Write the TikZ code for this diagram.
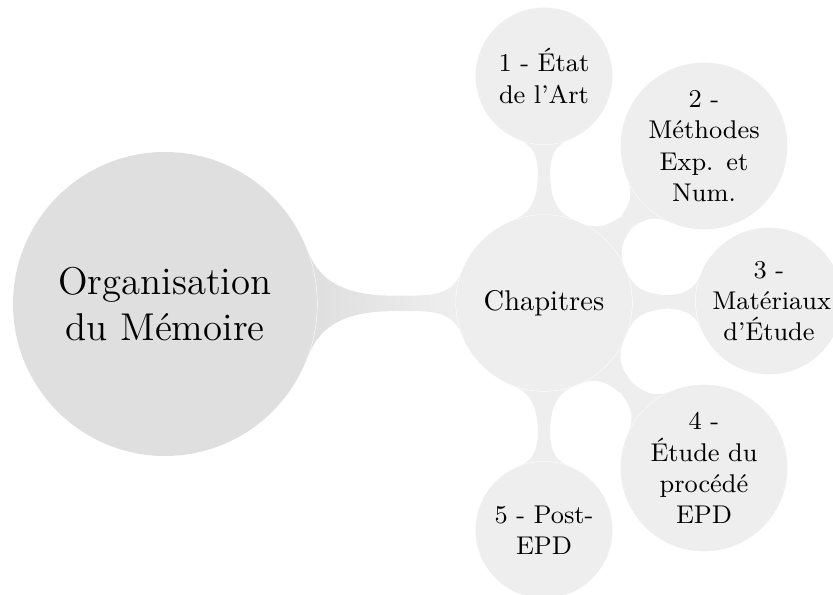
\documentclass[tikz,border=0pt]{standalone}
\usetikzlibrary{mindmap}
\hyphenpenalty=10000

\begin{document}
\begin{tikzpicture}[x=0.351pt,y=0.351pt,yscale=-1,xscale=1,
  root concept/.style={circle, fill=gray!25, inner sep=1pt, minimum size=106.7pt, text width=2.9cm, align=center, font=\fontsize{13.6}{16.4}\selectfont},
  chapter concept/.style={circle, fill=gray!13, inner sep=1pt, minimum size=61.8pt, text width=2cm, align=center},
  leaf concept/.style={circle, fill=gray!13, inner sep=1pt, minimum size=48pt, text width=1.4cm, align=center, font=\small},
  bar/.style={circle connection bar switch color=from (#1) to (gray!13)}]
\useasboundingbox (0,0) rectangle (833,595);

% Concepts
\node [root concept] (memoire) at (165,304) {Organisation du Mémoire};
\node [chapter concept] (chapitres) at (544,303) {Chapitres};
\node [leaf concept] (etat) at (544,76) {1 - État de l'Art};
\node [leaf concept] (methodes) at (704,146) {2 - Méthodes Exp. et Num.};
\node [leaf concept] (materiaux) at (769,301) {3 - Matériaux d'Étude};
\node [leaf concept] (procede) at (704,468) {4 - Étude du procédé EPD};
\node [leaf concept] (postepd) at (544,530) {5 - Post-EPD};

% Connection bars
\path (memoire) to [bar=gray!25] (chapitres);
\path (chapitres) to [bar=gray!13] (etat);
\path (chapitres) to [bar=gray!13] (methodes);
\path (chapitres) to [bar=gray!13] (materiaux);
\path (chapitres) to [bar=gray!13] (procede);
\path (chapitres) to [bar=gray!13] (postepd);

\end{tikzpicture}
\end{document}
